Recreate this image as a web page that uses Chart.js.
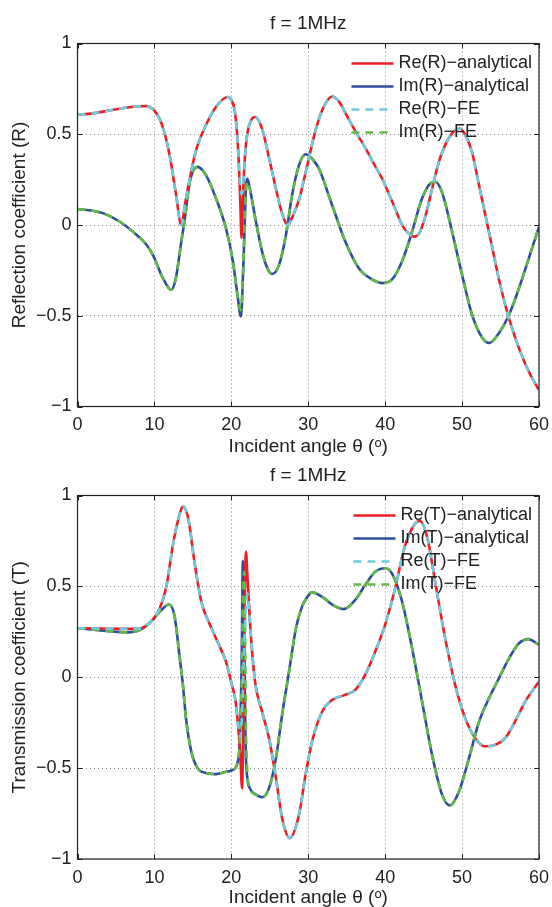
<!DOCTYPE html>
<html>
<head>
<meta charset="utf-8">
<script src="https://cdn.jsdelivr.net/npm/chart.js@4.4.1/dist/chart.umd.min.js"></script>
<style>
  body { margin: 0; background: #fff; }
  .box { position: absolute; left: 0; width: 552px; }
  #topBox { top: 0; height: 470px; }
  #bottomBox { top: 452px; height: 455px; }
</style>
</head>
<body>
<div class="box" id="topBox"><canvas id="chartR"></canvas></div>
<div class="box" id="bottomBox"><canvas id="chartT"></canvas></div>
<script>
// reflection, f = 1MHz
const reRAngle = [0, 2, 4, 6, 8, 8.8, 10, 11, 12, 12.8, 13.5, 14, 14.6, 15.4, 16.7, 18, 19.5, 20, 20.4, 20.7, 20.95, 21.15, 21.32, 21.5, 21.7, 22, 22.5, 23.1, 24, 24.9, 25.8, 26.6, 27.3, 28, 28.8, 29.5, 30.2, 31, 32, 33.1, 34, 35.3, 36.5, 37.5, 38.5, 39.6, 40.5, 41.3, 42.2, 43, 43.7, 44.5, 45.3, 46.1, 47, 47.8, 48.7, 49.7, 50.5, 51.3, 52.2, 53, 53.8, 54.8, 56, 57.4, 58.7, 60];
const reRAnalytical = [0.608, 0.615, 0.63, 0.645, 0.654, 0.655, 0.63, 0.55, 0.38, 0.17, 0.0, 0.12, 0.256, 0.41, 0.55, 0.65, 0.705, 0.69, 0.64, 0.53, 0.36, 0.15, -0.07, 0.12, 0.33, 0.48, 0.57, 0.595, 0.53, 0.37, 0.2, 0.064, 0.0, 0.05, 0.14, 0.26, 0.39, 0.53, 0.65, 0.708, 0.68, 0.58, 0.49, 0.42, 0.34, 0.256, 0.17, 0.09, 0.0, -0.045, -0.064, -0.04, 0.06, 0.2, 0.35, 0.44, 0.505, 0.53, 0.49, 0.4, 0.22, 0.06, -0.1, -0.3, -0.5, -0.68, -0.81, -0.91];
const reRFE = [0.608, 0.615, 0.63, 0.645, 0.654, 0.655, 0.63, 0.55, 0.38, 0.17, 0.0, 0.12, 0.256, 0.41, 0.55, 0.65, 0.705, 0.69, 0.64, 0.53, 0.36, 0.22, 0.17, 0.2, 0.33, 0.48, 0.57, 0.595, 0.53, 0.37, 0.2, 0.064, 0.0, 0.05, 0.14, 0.26, 0.39, 0.53, 0.65, 0.708, 0.68, 0.58, 0.49, 0.42, 0.34, 0.256, 0.17, 0.09, 0.0, -0.045, -0.064, -0.04, 0.06, 0.2, 0.35, 0.44, 0.505, 0.53, 0.49, 0.4, 0.22, 0.06, -0.1, -0.3, -0.5, -0.68, -0.81, -0.91];

const imRAngle = [0, 2, 3.4, 5.5, 7.7, 9, 9.8, 11.1, 12.2, 12.8, 13.5, 13.9, 14.6, 15.6, 16.7, 18, 19.3, 20.2, 20.8, 21.25, 21.55, 21.9, 22.1, 22.5, 23.2, 24, 24.7, 25.3, 26.2, 27.1, 27.9, 28.8, 29.65, 30.5, 31.4, 33.1, 34.8, 36.6, 38.3, 39.6, 40.9, 42.2, 43.5, 44.8, 45.9, 46.5, 47.4, 48.7, 50, 51.3, 52.6, 53.5, 54.8, 56.1, 57.4, 58.7, 60];
const imRAnalytical = [0.088, 0.078, 0.064, 0.018, -0.055, -0.11, -0.165, -0.293, -0.357, -0.29, -0.09, 0.018, 0.238, 0.32, 0.275, 0.147, -0.018, -0.2, -0.385, -0.504, -0.24, 0.2, 0.255, 0.18, 0.018, -0.147, -0.24, -0.27, -0.22, -0.055, 0.165, 0.33, 0.39, 0.365, 0.31, 0.11, -0.09, -0.24, -0.3, -0.32, -0.3, -0.2, -0.037, 0.147, 0.23, 0.238, 0.18, -0.037, -0.275, -0.495, -0.62, -0.65, -0.595, -0.495, -0.348, -0.18, -0.01];
const imRFE = [0.088, 0.078, 0.064, 0.018, -0.055, -0.11, -0.165, -0.293, -0.357, -0.29, -0.09, 0.018, 0.238, 0.32, 0.275, 0.147, -0.018, -0.2, -0.385, -0.47, -0.22, 0.19, 0.24, 0.18, 0.018, -0.147, -0.24, -0.27, -0.22, -0.055, 0.165, 0.33, 0.39, 0.365, 0.31, 0.11, -0.09, -0.24, -0.3, -0.32, -0.3, -0.2, -0.037, 0.147, 0.23, 0.238, 0.18, -0.037, -0.275, -0.495, -0.62, -0.65, -0.595, -0.495, -0.348, -0.18, -0.01];

// transmission, f = 1MHz
const reTAngle = [0, 3, 6, 8, 9.4, 10.7, 11.6, 12.4, 13.3, 13.7, 14.4, 15.2, 16.1, 17.2, 18.2, 19.3, 20, 20.5, 20.85, 21.15, 21.4, 21.55, 21.7, 21.9, 22.1, 22.5, 23.1, 24, 24.9, 25.8, 26.6, 27.6, 28.8, 29.65, 30.5, 31.8, 33.1, 34.8, 36.1, 37.4, 38.7, 40, 41.3, 42.6, 43.9, 44.5, 45.5, 46.5, 47.8, 49.1, 50.4, 51.7, 53, 54.3, 55.6, 56.9, 58.2, 60];
const reTAnalytical = [0.27, 0.268, 0.266, 0.268, 0.3, 0.38, 0.51, 0.727, 0.9, 0.94, 0.874, 0.636, 0.416, 0.29, 0.196, 0.086, -0.03, -0.12, -0.25, -0.42, -0.61, -0.26, 0.29, 0.69, 0.55, 0.256, -0.03, -0.19, -0.335, -0.555, -0.775, -0.885, -0.756, -0.537, -0.353, -0.19, -0.125, -0.097, -0.07, 0.013, 0.14, 0.29, 0.49, 0.727, 0.846, 0.86, 0.764, 0.525, 0.214, -0.042, -0.225, -0.335, -0.38, -0.372, -0.335, -0.243, -0.134, -0.024];
const reTFE = [0.27, 0.268, 0.266, 0.268, 0.3, 0.38, 0.51, 0.727, 0.9, 0.94, 0.874, 0.636, 0.416, 0.29, 0.196, 0.086, -0.03, -0.12, -0.25, -0.33, -0.2, 0.0, 0.2, 0.38, 0.46, 0.256, -0.03, -0.19, -0.335, -0.555, -0.775, -0.885, -0.756, -0.537, -0.353, -0.19, -0.125, -0.097, -0.07, 0.013, 0.14, 0.29, 0.49, 0.727, 0.846, 0.86, 0.764, 0.525, 0.214, -0.042, -0.225, -0.335, -0.38, -0.372, -0.335, -0.243, -0.134, -0.024];

const imTAngle = [0, 3.4, 6.4, 8.1, 9.4, 10.7, 11.9, 12.6, 13.3, 13.7, 14.1, 14.8, 15.6, 16.7, 18, 19.3, 20.2, 20.8, 21.1, 21.35, 21.5, 21.7, 21.9, 22.4, 23.2, 24, 24.9, 25.8, 26.6, 27.5, 28.4, 29.2, 29.7, 30.5, 31.8, 33.1, 34.6, 36.1, 37.4, 38.7, 40, 40.9, 42.2, 43.5, 44.8, 46.1, 47.4, 48.4, 49.6, 50.9, 52.2, 53.5, 54.8, 56.1, 57.4, 58.6, 60];
const imTAnalytical = [0.27, 0.256, 0.247, 0.26, 0.3, 0.36, 0.4, 0.34, 0.104, -0.04, -0.225, -0.41, -0.5, -0.527, -0.533, -0.52, -0.51, -0.47, -0.35, 0.11, 0.64, 0.11, -0.45, -0.61, -0.646, -0.66, -0.61, -0.445, -0.207, 0.03, 0.27, 0.39, 0.43, 0.467, 0.443, 0.4, 0.375, 0.425, 0.507, 0.58, 0.6, 0.57, 0.416, 0.16, -0.134, -0.427, -0.646, -0.705, -0.628, -0.445, -0.245, -0.115, -0.005, 0.104, 0.187, 0.21, 0.178];
const imTFE = [0.27, 0.256, 0.247, 0.26, 0.3, 0.36, 0.4, 0.34, 0.104, -0.04, -0.225, -0.41, -0.5, -0.527, -0.533, -0.52, -0.51, -0.47, -0.35, 0.0, 0.45, 0.58, -0.3, -0.61, -0.646, -0.66, -0.61, -0.445, -0.207, 0.03, 0.27, 0.39, 0.43, 0.467, 0.443, 0.4, 0.375, 0.425, 0.507, 0.58, 0.6, 0.57, 0.416, 0.16, -0.134, -0.427, -0.646, -0.705, -0.628, -0.445, -0.245, -0.115, -0.005, 0.104, 0.187, 0.21, 0.178];

const xTicks = [0, 10, 20, 30, 40, 50, 60];
const yTicks = [-1, -0.5, 0, 0.5, 1];

const FONT = '"Liberation Sans", Arial, sans-serif';
const RED = "#ee1d23", BLUE = "#2d4e9f", CYAN = "#6ccbdc", GREEN = "#63b946";

function pts(xs, ys) {
    return xs.map(function (x, i) { return { x: x, y: ys[i] }; });
}

function fmt(v) {
    return v < 0 ? "\u2212" + Math.abs(v) : String(v);
}

// matlab style box with inward ticks
const boxPlugin = {
    id: "boxPlugin",
    afterDatasetsDraw(chart) {
        const { ctx, chartArea: a, scales } = chart;
        ctx.save();
        ctx.strokeStyle = "#222";
        ctx.lineWidth = 1.2;
        ctx.setLineDash([]);
        ctx.strokeRect(a.left, a.top, a.right - a.left, a.bottom - a.top);
        ctx.beginPath();
        xTicks.forEach(function (t) {
            const px = Math.round(scales.x.getPixelForValue(t)) + 0.5;
            ctx.moveTo(px, a.bottom); ctx.lineTo(px, a.bottom - 5);
            ctx.moveTo(px, a.top); ctx.lineTo(px, a.top + 5);
        });
        yTicks.forEach(function (t) {
            const py = Math.round(scales.y.getPixelForValue(t)) + 0.5;
            ctx.moveTo(a.left, py); ctx.lineTo(a.left + 5, py);
            ctx.moveTo(a.right, py); ctx.lineTo(a.right - 5, py);
        });
        ctx.lineWidth = 1;
        ctx.stroke();
        ctx.restore();
    }
};

// legend inside the axes, top right, no frame
const innerLegend = {
    id: "innerLegend",
    afterDraw(chart) {
        const { ctx, chartArea: a } = chart;
        const sets = chart.data.datasets;
        ctx.save();
        ctx.font = "18px " + FONT;
        const w = Math.max.apply(null, sets.map(function (d) { return ctx.measureText(d.label).width; }));
        const tx = a.right - 7 - w;
        sets.forEach(function (d, i) {
            const y = a.top + 20 + i * 23;
            ctx.beginPath();
            ctx.setLineDash(d.borderDash || []);
            ctx.strokeStyle = d.borderColor;
            ctx.lineWidth = d.borderWidth;
            ctx.moveTo(tx - 47, y);
            ctx.lineTo(tx - 5, y);
            ctx.stroke();
            ctx.setLineDash([]);
            ctx.fillStyle = "#222";
            ctx.textBaseline = "middle";
            ctx.textAlign = "left";
            ctx.fillText(d.label, tx, y);
        });
        ctx.restore();
    }
};

function makeChart(id, yTitle, sym, series, xAxisHeight, xTitlePad) {
    const line = function (label, data, color, dashed) {
        return {
            label: label,
            data: data,
            borderColor: color,
            borderWidth: 2.6,
            borderDash: dashed ? [8, 6] : [],
            pointRadius: 0,
            fill: false,
            cubicInterpolationMode: "monotone",
            order: dashed ? 1 : 2,
        };
    };
    new Chart(document.getElementById(id), {
        type: "line",
        data: {
            datasets: [
                line("Re(" + sym + ")\u2212analytical", series[0], RED, false),
                line("Im(" + sym + ")\u2212analytical", series[1], BLUE, false),
                line("Re(" + sym + ")\u2212FE", series[2], CYAN, true),
                line("Im(" + sym + ")\u2212FE", series[3], GREEN, true),
            ],
        },
        options: {
            responsive: true,
            maintainAspectRatio: false,
            animation: false,
            events: [],
            layout: { padding: 0 },
            plugins: {
                legend: { display: false },
                tooltip: { enabled: false },
                title: {
                    display: true,
                    fullSize: false,
                    text: "f = 1MHz",
                    color: "#222",
                    font: { family: FONT, size: 19, weight: "normal", lineHeight: 1.2 },
                    padding: { top: 12.1, bottom: 8.6 },
                },
            },
            scales: {
                x: {
                    type: "linear",
                    min: 0,
                    max: 60,
                    afterFit: function (s) {
                        s.height = xAxisHeight;
                        s.paddingLeft = 0;
                        s.paddingRight = 13;
                    },
                    afterBuildTicks: function (s) { s.ticks = xTicks.map(function (v) { return { value: v }; }); },
                    ticks: { color: "#222", padding: 8, font: { family: FONT, size: 18 }, maxRotation: 0 },
                    grid: { color: "#8c8c8c", lineWidth: 1, drawTicks: false },
                    border: { display: false, dash: [1, 3] },
                    title: {
                        display: true,
                        text: "Incident angle \u03b8 (\u1d52)",
                        color: "#222",
                        font: { family: FONT, size: 19, lineHeight: 1 },
                        padding: { top: 0, bottom: xTitlePad },
                    },
                },
                y: {
                    min: -1,
                    max: 1,
                    afterFit: function (s) { s.width = 77.5; },
                    afterBuildTicks: function (s) { s.ticks = yTicks.map(function (v) { return { value: v }; }); },
                    ticks: { color: "#222", padding: 6, font: { family: FONT, size: 18 }, callback: fmt },
                    grid: { color: "#8c8c8c", lineWidth: 1, drawTicks: false },
                    border: { display: false, dash: [1, 3] },
                    title: {
                        display: true,
                        text: yTitle,
                        color: "#222",
                        font: { family: FONT, size: 19, lineHeight: 1 },
                        padding: { top: 10.5, bottom: 0 },
                    },
                },
            },
        },
        plugins: [boxPlugin, innerLegend],
    });
}

makeChart("chartR", "Reflection coefficient (R)", "R", [
    pts(reRAngle, reRAnalytical),
    pts(imRAngle, imRAnalytical),
    pts(reRAngle, reRFE),
    pts(imRAngle, imRFE),
], 63.5, 13.5);

makeChart("chartT", "Transmission coefficient (T)", "T", [
    pts(reTAngle, reTAnalytical),
    pts(imTAngle, imTAnalytical),
    pts(reTAngle, reTFE),
    pts(imTAngle, imTFE),
], 48, 0);
</script>
</body>
</html>
